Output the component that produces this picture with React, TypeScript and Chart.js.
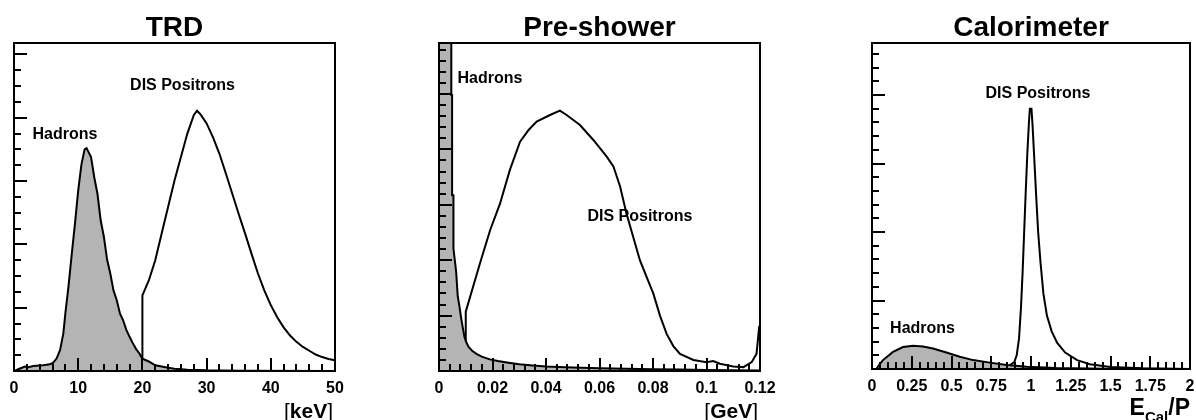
import { useEffect, useRef } from 'react';
import { Chart, registerables } from 'chart.js';

Chart.register(...registerables);

const FONT = '"Liberation Sans", Arial, Helvetica, sans-serif';

// ---------- TRD ----------
const trdTitle = 'TRD';
const trdTickValues = [0, 10, 20, 30, 40, 50];
const trdTickLabels = ['0', '10', '20', '30', '40', '50'];
const trdUnit = ['[', 'keV', ']'];
const trdHadronX = [0, 0.93, 1.71, 2.23, 3.0, 4.5, 5.6, 6.1, 6.65, 7.17, 7.68, 8, 8.5, 9, 9.5, 10, 10.5, 11, 11.3, 11.6, 12, 12.5, 13, 13.5, 14, 14.5, 15, 15.5, 16, 16.5, 17, 17.5, 18, 18.5, 19, 19.5, 20, 21, 22, 23, 24, 25, 27, 30, 35, 50];
const trdHadronY = [0, 0.04, 0.07, 0.06, 0.08, 0.09, 0.105, 0.13, 0.2, 0.33, 0.59, 0.91, 1.35, 1.85, 2.33, 2.85, 3.26, 3.5, 3.52, 3.46, 3.38, 3.06, 2.8, 2.38, 2.12, 1.76, 1.54, 1.27, 1.12, 0.91, 0.8, 0.65, 0.54, 0.44, 0.35, 0.28, 0.195, 0.15, 0.09, 0.07, 0.05, 0.037, 0.02, 0.01, 0.005, 0];
const trdPositronX = [0, 20, 20, 21, 22, 23, 24, 25, 26, 27, 28, 28.5, 29, 30, 31, 32, 33, 34, 35, 36, 37, 38, 39, 40, 41, 42, 43, 44, 45, 46, 47, 48, 49, 50];
const trdPositronY = [0, 0, 1.195, 1.43, 1.75, 2.17, 2.59, 3.01, 3.38, 3.75, 4.04, 4.11, 4.06, 3.91, 3.69, 3.43, 3.12, 2.8, 2.48, 2.17, 1.85, 1.54, 1.27, 1.04, 0.85, 0.69, 0.56, 0.46, 0.38, 0.32, 0.26, 0.22, 0.19, 0.17];

// ---------- Pre-shower ----------
const psTitle = 'Pre-shower';
const psTickValues = [0, 0.02, 0.04, 0.06, 0.08, 0.1, 0.12];
const psTickLabels = ['0', '0.02', '0.04', '0.06', '0.08', '0.1', '0.12'];
const psUnit = ['[', 'GeV', ']'];
const psHadronX = [0, 0, 0.0046, 0.0046, 0.0049, 0.0049, 0.0054, 0.0054, 0.0064, 0.007, 0.0076, 0.0083, 0.0089, 0.0095, 0.0101, 0.011, 0.0125, 0.014, 0.016, 0.019, 0.022, 0.026, 0.03, 0.035, 0.04, 0.05, 0.06, 0.07, 0.08, 0.09, 0.1, 0.11, 0.12];
const psHadronY = [0, 7, 7, 4.98, 4.98, 3.17, 3.17, 2.21, 1.8, 1.35, 1.18, 0.95, 0.78, 0.62, 0.53, 0.44, 0.36, 0.31, 0.26, 0.21, 0.18, 0.15, 0.12, 0.1, 0.08, 0.065, 0.05, 0.04, 0.03, 0.025, 0.02, 0.015, 0.01];
const psPositronX = [0, 0.01, 0.01, 0.0153, 0.0191, 0.0228, 0.0265, 0.0303, 0.0335, 0.0365, 0.0415, 0.0452, 0.0477, 0.0527, 0.0577, 0.0627, 0.0652, 0.0677, 0.0701, 0.0726, 0.0751, 0.0776, 0.0801, 0.0826, 0.0851, 0.0876, 0.0901, 0.0951, 0.1, 0.1025, 0.105, 0.11, 0.1138, 0.1169, 0.1187, 0.1197, 0.12];
const psPositronY = [0, 0, 1.07, 1.94, 2.54, 3.02, 3.63, 4.14, 4.35, 4.5, 4.62, 4.7, 4.62, 4.44, 4.17, 3.87, 3.69, 3.33, 2.84, 2.42, 2.0, 1.7, 1.4, 1.0, 0.67, 0.45, 0.31, 0.2, 0.16, 0.18, 0.13, 0.08, 0.07, 0.16, 0.31, 0.8, 0.8];

// ---------- Calorimeter ----------
const calTitle = 'Calorimeter';
const calTickValues = [0, 0.25, 0.5, 0.75, 1, 1.25, 1.5, 1.75, 2];
const calTickLabels = ['0', '0.25', '0.5', '0.75', '1', '1.25', '1.5', '1.75', '2'];
const calUnit = ['E', 'Cal', '/P'];
const calHadronX = [0, 0.027, 0.045, 0.069, 0.132, 0.195, 0.258, 0.321, 0.384, 0.468, 0.552, 0.636, 0.741, 0.846, 0.972, 1.16, 1.475, 2.0];
const calHadronY = [0, 0, 0.06, 0.13, 0.25, 0.32, 0.34, 0.33, 0.3, 0.24, 0.18, 0.13, 0.093, 0.059, 0.034, 0.015, 0.005, 0];
const calPositronX = [0, 0.86, 0.87, 0.895, 0.91, 0.925, 0.937, 0.947, 0.957, 0.967, 0.977, 0.987, 0.993, 1.003, 1.01, 1.02, 1.032, 1.045, 1.06, 1.078, 1.1, 1.13, 1.165, 1.215, 1.29, 1.37, 1.5, 1.7, 2.0];
const calPositronY = [0, 0, 0.06, 0.1, 0.2, 0.45, 0.9, 1.4, 2.0, 2.6, 3.15, 3.6, 3.8, 3.8, 3.55, 3.1, 2.55, 2.0, 1.55, 1.1, 0.78, 0.55, 0.38, 0.24, 0.13, 0.07, 0.03, 0.01, 0];

interface Label { text: string; x: number; y: number }
interface Panel {
  title: string;
  tickValues: number[];
  tickLabels: string[];
  unit: string[];
  unitKind: 'bracket' | 'sub';
  hadronX: number[]; hadronY: number[];
  positronX: number[]; positronY: number[];
  labels: Label[];
  xMinorDiv: number; yMax: number; yMinorDiv: number;
  canvasLeft: number; canvasWidth: number; padLeft: number; padRight: number; frameBottom: number;
}

const panels: Panel[] = [
  {
    title: trdTitle, tickValues: trdTickValues, tickLabels: trdTickLabels, unit: trdUnit, unitKind: 'bracket',
    hadronX: trdHadronX, hadronY: trdHadronY, positronX: trdPositronX, positronY: trdPositronY,
    labels: [{ text: 'Hadrons', x: 7.94, y: 3.67 }, { text: 'DIS Positrons', x: 26.25, y: 4.445 }],
    xMinorDiv: 5, yMax: 5.18, yMinorDiv: 4,
    canvasLeft: 0, canvasWidth: 360, padLeft: 14, padRight: 25, frameBottom: 371,
  },
  {
    title: psTitle, tickValues: psTickValues, tickLabels: psTickLabels, unit: psUnit, unitKind: 'bracket',
    hadronX: psHadronX, hadronY: psHadronY, positronX: psPositronX, positronY: psPositronY,
    labels: [{ text: 'Hadrons', x: 0.01907, y: 5.2 }, { text: 'DIS Positrons', x: 0.0751, y: 2.71 }],
    xMinorDiv: 5, yMax: 5.92, yMinorDiv: 5,
    canvasLeft: 400, canvasWidth: 390, padLeft: 39, padRight: 30, frameBottom: 371,
  },
  {
    title: calTitle, tickValues: calTickValues, tickLabels: calTickLabels, unit: calUnit, unitKind: 'sub',
    hadronX: calHadronX, hadronY: calHadronY, positronX: calPositronX, positronY: calPositronY,
    labels: [{ text: 'DIS Positrons', x: 1.044, y: 3.95 }, { text: 'Hadrons', x: 0.318, y: 0.52 }],
    xMinorDiv: 5, yMax: 4.76, yMinorDiv: 5,
    canvasLeft: 830, canvasWidth: 380, padLeft: 42, padRight: 20, frameBottom: 369,
  },
];

function makeOverlay(p: Panel) {
  return {
    id: 'overlay',
    afterDatasetsDraw(chart: any) {
      const { ctx, chartArea: a, scales } = chart;
      const xs = scales.x;
      const ys = scales.y;
      ctx.save();
      ctx.strokeStyle = '#000';
      ctx.fillStyle = '#000';
      // x ticks (inward)
      ctx.lineWidth = 2;
      const xMin = p.tickValues[0];
      const xMax = p.tickValues[p.tickValues.length - 1];
      const xStep = (p.tickValues[1] - p.tickValues[0]) / p.xMinorDiv;
      const nx = Math.round((xMax - xMin) / xStep);
      ctx.beginPath();
      for (let j = 0; j <= nx; j++) {
        const px = Math.round(xs.getPixelForValue(xMin + j * xStep));
        const len = j % p.xMinorDiv === 0 ? 13 : 7;
        ctx.moveTo(px, a.bottom);
        ctx.lineTo(px, a.bottom - len);
      }
      // y ticks (inward)
      const ny = Math.floor(p.yMax * p.yMinorDiv + 1e-6);
      for (let j = 0; j <= ny; j++) {
        const py = Math.round(ys.getPixelForValue(j / p.yMinorDiv));
        const len = j % p.yMinorDiv === 0 ? 13 : 7;
        ctx.moveTo(a.left, py);
        ctx.lineTo(a.left + len, py);
      }
      ctx.stroke();
      // frame
      ctx.lineWidth = 2;
      ctx.strokeRect(a.left, a.top, a.right - a.left, a.bottom - a.top);
      // annotations
      ctx.textAlign = 'center';
      ctx.textBaseline = 'alphabetic';
      ctx.font = `bold 16px ${FONT}`;
      for (const l of p.labels) {
        ctx.fillText(l.text, xs.getPixelForValue(l.x), ys.getPixelForValue(l.y));
      }
      // title
      ctx.font = `bold 28px ${FONT}`;
      ctx.fillText(p.title, (a.left + a.right) / 2, 35.5);
      // unit label
      ctx.textAlign = 'left';
      if (p.unitKind === 'bracket') {
        const parts = [
          { t: p.unit[0], f: `normal 21px ${FONT}` },
          { t: p.unit[1], f: `bold 21px ${FONT}` },
          { t: p.unit[2], f: `normal 21px ${FONT}` },
        ];
        let total = 0;
        for (const pt of parts) { ctx.font = pt.f; total += ctx.measureText(pt.t).width; }
        let x = a.right - 2 - total;
        for (const pt of parts) { ctx.font = pt.f; ctx.fillText(pt.t, x, 418); x += ctx.measureText(pt.t).width; }
      } else {
        const parts = [
          { t: p.unit[0], f: `bold 23px ${FONT}`, dy: 415 },
          { t: p.unit[1], f: `bold 15px ${FONT}`, dy: 422 },
          { t: p.unit[2], f: `bold 23px ${FONT}`, dy: 415 },
        ];
        let total = 0;
        for (const pt of parts) { ctx.font = pt.f; total += ctx.measureText(pt.t).width; }
        let x = a.right - total;
        for (const pt of parts) { ctx.font = pt.f; ctx.fillText(pt.t, x, pt.dy); x += ctx.measureText(pt.t).width; }
      }
      ctx.restore();
    },
  };
}

function HistPanel({ p }: { p: Panel }) {
  const ref = useRef<HTMLCanvasElement>(null);
  useEffect(() => {
    const canvas = ref.current;
    if (!canvas) return;
    const chart = new Chart(canvas, {
      type: 'line',
      data: {
        datasets: [
          {
            label: 'Hadrons',
            data: p.hadronX.map((x, i) => ({ x, y: p.hadronY[i] })),
            borderColor: '#000',
            borderWidth: 2,
            backgroundColor: 'rgb(180,180,180)',
            fill: 'origin',
            pointRadius: 0,
            tension: 0,
          },
          {
            label: 'DIS Positrons',
            data: p.positronX.map((x, i) => ({ x, y: p.positronY[i] })),
            borderColor: '#000',
            borderWidth: 2,
            fill: false,
            pointRadius: 0,
            tension: 0,
          },
        ],
      },
      options: {
        animation: false,
        responsive: false,
        devicePixelRatio: 1,
        events: [],
        layout: { padding: { left: p.padLeft, right: p.padRight, top: 43, bottom: 0 } },
        plugins: {
          legend: { display: false },
          tooltip: { enabled: false },
          title: { display: false },
        },
        scales: {
          x: {
            type: 'linear',
            min: p.tickValues[0],
            max: p.tickValues[p.tickValues.length - 1],
            grid: { display: false, drawTicks: false },
            border: { display: false },
            afterBuildTicks: (s: any) => { s.ticks = p.tickValues.map((v) => ({ value: v })); },
            afterFit: (s: any) => { s.height = 420 - p.frameBottom; },
            ticks: {
              color: '#000',
              font: { family: FONT, size: 16, weight: 'bold' },
              padding: 8,
              maxRotation: 0,
              autoSkip: false,
              callback: (_v: any, i: number) => p.tickLabels[i],
            },
          },
          y: { type: 'linear', min: 0, max: p.yMax, display: false },
        },
      },
      plugins: [makeOverlay(p)],
    } as any);
    return () => chart.destroy();
  }, [p]);
  return (
    <canvas
      ref={ref}
      width={p.canvasWidth}
      height={420}
      style={{ position: 'absolute', left: p.canvasLeft, top: 0, width: p.canvasWidth, height: 420 }}
    />
  );
}

export default function App() {
  return (
    <div style={{ position: 'fixed', left: 0, top: 0, width: 1196, height: 420, background: '#fff', overflow: 'hidden' }}>
      {panels.map((p) => (
        <HistPanel key={p.title} p={p} />
      ))}
    </div>
  );
}
